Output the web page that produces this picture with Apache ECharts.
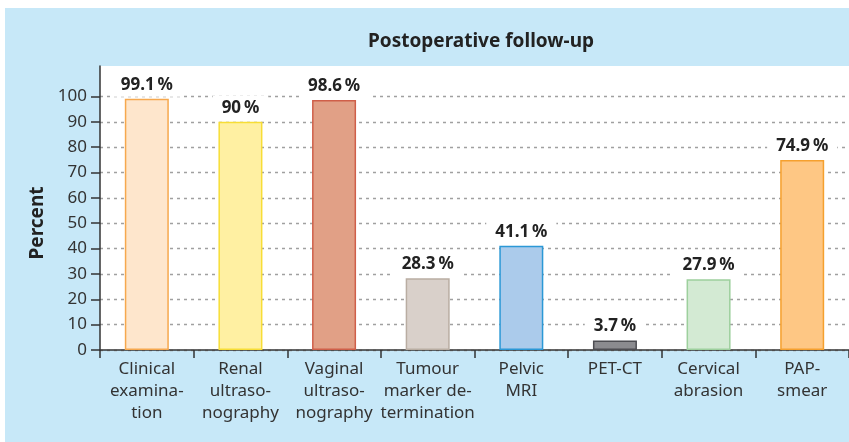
<!DOCTYPE html>
<html>
<head>
<meta charset="utf-8">
<script src="https://cdn.jsdelivr.net/npm/echarts@6/dist/echarts.min.js"></script>
<style>
  html, body { margin: 0; padding: 0; background: #ffffff; }
  #chart { position: absolute; left: 5px; top: 8px; width: 844px; height: 434px; }
</style>
</head>
<body>
<div id="chart"></div>
<script>
const categories = [
  'Clinical\nexamina-\ntion',
  'Renal\nultraso-\nnography',
  'Vaginal\nultraso-\nnography',
  'Tumour\nmarker de-\ntermination',
  'Pelvic\nMRI',
  'PET-CT',
  'Cervical\nabrasion',
  'PAP-\nsmear'
];
const values = [99.1, 90, 98.6, 28.3, 41.1, 3.7, 27.9, 74.9];
const yTicks = [0, 10, 20, 30, 40, 50, 60, 70, 80, 90, 100];

const fillColors = ['#fee6cc', '#fff0a2', '#e1a086', '#d9d0ca', '#abcbeb', '#8b8b8f', '#d3ead3', '#fec784'];
const borderColors = ['#f6a84e', '#f7dd36', '#cf5f49', '#b9ada2', '#2b98d6', '#4d4d52', '#9dd09d', '#f5a02e'];

const chart = echarts.init(document.getElementById('chart'));
const FONT = '"Noto Sans", "Open Sans", sans-serif';

chart.setOption({
  backgroundColor: '#c7e8f8',
  animation: false,
  title: {
    text: 'Postoperative follow-up',
    left: 471,
    top: 19,
    textAlign: 'center',
    textStyle: { fontFamily: FONT, fontSize: 19, fontWeight: 'bold', color: '#222' }
  },
  grid: {
    left: 95, top: 58, width: 754, height: 284,
    show: true, backgroundColor: '#ffffff', borderWidth: 0
  },
  xAxis: {
    type: 'category',
    data: categories,
    axisLine: { lineStyle: { color: '#333', width: 1.5 } },
    axisTick: { show: true, length: 8, alignWithLabel: false, lineStyle: { color: '#333', width: 1.5 } },
    axisLabel: {
      interval: 0, margin: 8,
      fontFamily: FONT, fontSize: 17, lineHeight: 22, color: '#333'
    }
  },
  yAxis: {
    type: 'value',
    min: 0, max: 112, interval: 10,
    name: 'Percent',
    nameLocation: 'middle',
    nameGap: 52,
    nameTextStyle: { fontFamily: FONT, fontSize: 19, fontWeight: 'bold', color: '#222', padding: [0, 30, 0, 0] },
    axisLine: { show: true, lineStyle: { color: '#333', width: 1.5 } },
    axisTick: { show: true, length: 9, customValues: yTicks, lineStyle: { color: '#333', width: 1.5 } },
    axisLabel: { customValues: yTicks, margin: 13, fontFamily: FONT, fontSize: 17, color: '#333' },
    splitLine: { show: true, lineStyle: { color: '#a0a0a0', width: 1.3, type: [3, 4] } }
  },
  series: [{
    type: 'bar',
    barWidth: 44,
    data: values.map((v, i) => ({
      value: v,
      itemStyle: { color: fillColors[i], borderColor: borderColors[i], borderWidth: 1.5 }
    })),
    label: {
      show: true,
      position: 'top',
      distance: 2,
      formatter: p => p.value + '\u2009%',
      fontFamily: FONT, fontSize: 17, fontWeight: 'bold', color: '#222',
      backgroundColor: '#ffffff',
      padding: [3, 9, 3, 9],
      lineHeight: 18
    }
  }]
});
</script>
</body>
</html>
